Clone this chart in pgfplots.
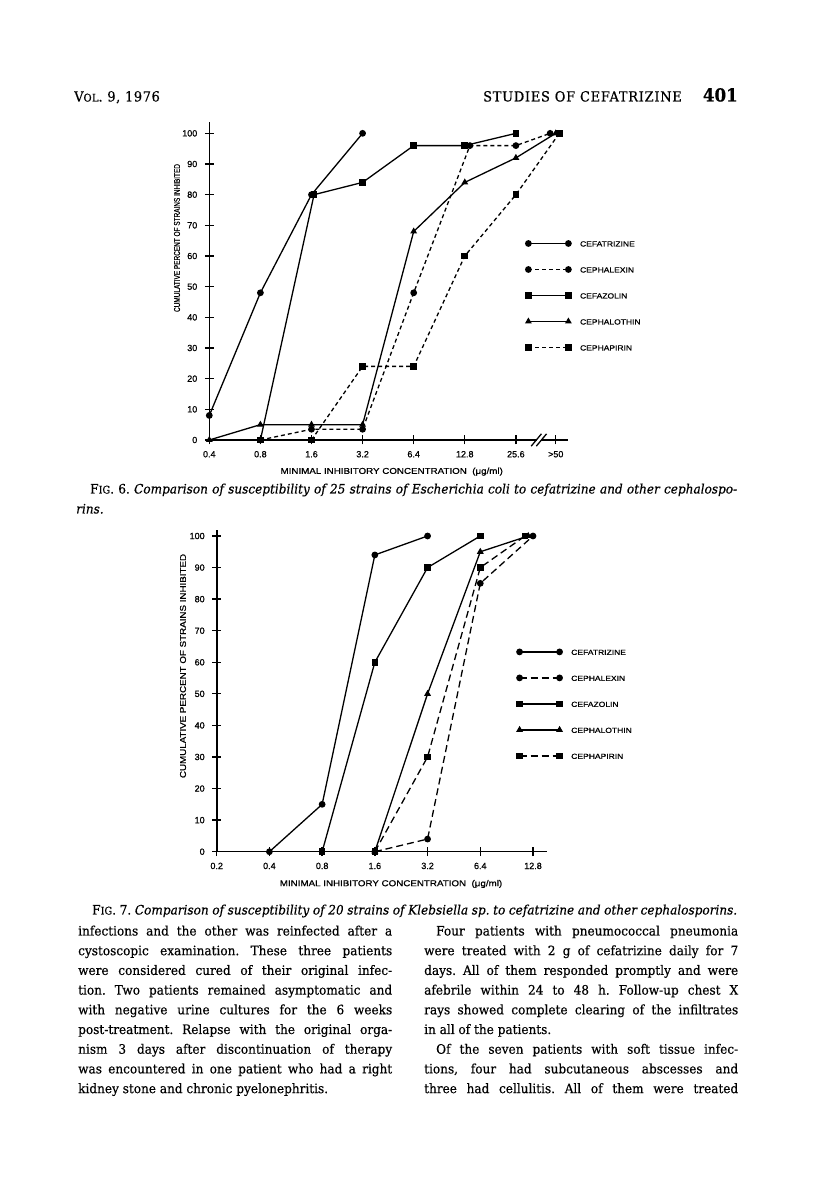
\documentclass[border=0pt]{standalone}
\usepackage{fontspec}
\usepackage{pgfplots}
\pgfplotsset{compat=1.18}
\setmainfont{DejaVu Serif}[FakeStretch=0.93, FakeBold=0.4]
\newfontfamily\chartfont{Liberation Sans}[FakeStretch=1.15, FakeBold=0.8]
\newfontfamily\tickfont{Liberation Sans}[FakeBold=0.8]
\newcommand\smc[1]{{\fontsize{10.5}{10.5}\selectfont #1}}
\newcommand\bodyline[3]{\node[anchor=base west, inner sep=0pt] at (#1pt,#2pt) {\fontsize{13}{13}\selectfont\frenchspacing\makebox[314pt][s]{#3}};}
\newcommand\lastline[3]{\node[anchor=base west, inner sep=0pt] at (#1pt,#2pt) {\fontsize{13}{13}\selectfont\frenchspacing #3};}

\pgfplotsset{
  mic/.style={
    scale only axis, clip=false,
    axis x line=bottom, axis y line=left,
    axis line style={-, line width=1.6pt},
    tick align=center, major tick length=9pt,
    tick style={black, line width=1.3pt},
    ytick={0,10,...,100},
    yticklabels={0,10,20,30,40,50,60,70,80,90,100},
    ticklabel style={font=\tickfont\fontsize{9}{9}\selectfont},
    xticklabel style={yshift=-3pt},
    yticklabel style={xshift=-4pt},
    every axis plot/.append style={black, line width=1.3pt, mark options={solid}},
    mark size=2.7pt,
    legend cell align=left,
    legend image code/.code={\draw[##1, mark repeat=2, mark phase=1] plot coordinates {(0pt,0pt) (20pt,0pt) (40pt,0pt)};},
    legend style={anchor=north west, draw=none, fill=none, inner sep=0pt,
      row sep=20pt, column sep=9pt, font=\chartfont\fontsize{7.4}{7.4}\selectfont,
      nodes={inner sep=0pt, text height=6pt, text depth=0pt}},
  },
}

\begin{document}
\begin{tikzpicture}
\fill[white] (0pt,0pt) rectangle (816pt,1199pt);
\path[use as bounding box] (0pt,0pt) rectangle (816pt,1199pt);

% running head
\node[anchor=base west, inner sep=0pt] at (74pt,1097.5pt) {\fontsize{14}{14}\selectfont\addfontfeature{LetterSpace=4}V\smc{OL}. 9, 1976};
\node[anchor=base east, inner sep=0pt] at (682pt,1097.5pt) {\fontsize{14}{14}\selectfont\addfontfeature{LetterSpace=5}STUDIES OF CEFATRIZINE};
\node[anchor=base east, inner sep=0pt] at (738pt,1097.5pt) {\fontsize{18}{18}\selectfont\bfseries 401};

% Fig. 6, Escherichia coli
\begin{axis}[mic, at={(209.3pt,759pt)}, width=358.7pt, height=318.3pt,
  xmin=0, xmax=7.02, ymin=0, ymax=103.8,
  xtick={0,1,2,3,4,5,6,6.78},
  xticklabels={0.4,0.8,1.6,3.2,6.4,12.8,25.6,>50},
  legend style={at={(0.8815,0.6274)}}]
\addplot[mark=*] coordinates {(0,8) (1,48) (2,80) (3,100)};
\addlegendentry{CEFATRIZINE}
\addplot[mark=*, dash pattern=on 4pt off 3pt] coordinates {(1,0) (2,3.5) (3,3.5) (4,48) (5.1,96) (6,96) (6.67,100)};
\addlegendentry{CEPHALEXIN}
\addplot[mark=square*] coordinates {(1,0) (2.05,80) (3,84) (4,96) (5,96) (6,100)};
\addlegendentry{CEFAZOLIN}
\addplot[mark=triangle*] coordinates {(0,0) (1,5) (2,5) (3,5) (4,68) (5,84) (6,92) (6.78,100)};
\addlegendentry{CEPHALOTHIN}
\addplot[mark=square*, dash pattern=on 4pt off 3pt] coordinates {(2,0) (3,24) (4,24) (5,60) (6,80) (6.85,100)};
\addlegendentry{CEPHAPIRIN}
% axis break
\draw[white, line width=4pt] (axis cs:6.42,0) -- (axis cs:6.50,0);
\draw[black, line width=1.3pt] (axis cs:6.30,-2) -- (axis cs:6.50,2);
\draw[black, line width=1.3pt] (axis cs:6.40,-2) -- (axis cs:6.60,2);
\end{axis}
\node[font=\chartfont\fontsize{8.5}{8.5}\selectfont] at (391.7pt,727.3pt) {MINIMAL INHIBITORY CONCENTRATION\ \ (μg/ml)};
\node[rotate=90, font=\chartfont\fontsize{8.5}{8.5}\selectfont] at (177pt,961pt) {\scalebox{0.66}[1]{CUMULATIVE PERCENT OF STRAINS INHIBITED}};

\node[anchor=base west, inner sep=0pt] at (90pt,705.5pt) {\fontsize{13}{13}\selectfont\frenchspacing\makebox[647pt][s]{F\smc{IG}. 6. \itshape Comparison of susceptibility of 25 strains of Escherichia coli to cefatrizine and other cephalospo-}};
\node[anchor=base west, inner sep=0pt] at (76pt,685.5pt) {\fontsize{13}{13}\selectfont\itshape rins.};

% Fig. 7, Klebsiella sp.
\begin{axis}[mic, at={(216.7pt,347.3pt)}, width=330pt, height=321.7pt,
  xmin=0, xmax=6.26, ymin=0, ymax=101.9,
  xtick={0,1,2,3,4,5,6},
  xticklabels={0.2,0.4,0.8,1.6,3.2,6.4,12.8},
  legend style={at={(0.909,0.631)}}]
\addplot[mark=*] coordinates {(1,0) (2,15) (3,94) (4,100)};
\addlegendentry{CEFATRIZINE}
\addplot[mark=*, dash pattern=on 7pt off 4pt] coordinates {(3,0) (4,4) (5,85) (6.0,100)};
\addlegendentry{CEPHALEXIN}
\addplot[mark=square*] coordinates {(2,0) (3,60) (4,90) (5,100)};
\addlegendentry{CEFAZOLIN}
\addplot[mark=triangle*] coordinates {(3,0) (4,50) (5,95) (5.91,100)};
\addlegendentry{CEPHALOTHIN}
\addplot[mark=square*, dash pattern=on 7pt off 4pt] coordinates {(3,0) (4,30) (5,90) (5.85,100)};
\addlegendentry{CEPHAPIRIN}
\end{axis}
\node[font=\chartfont\fontsize{8.5}{8.5}\selectfont] at (391pt,315pt) {MINIMAL INHIBITORY CONCENTRATION\ \ (μg/ml)};
\node[rotate=90, font=\chartfont\fontsize{8.5}{8.5}\selectfont] at (183pt,533pt) {CUMULATIVE PERCENT OF STRAINS INHIBITED};

\node[anchor=base west, inner sep=0pt] at (92pt,284.5pt) {\fontsize{13}{13}\selectfont\frenchspacing\makebox[645pt][s]{F\smc{IG}. 7. \itshape Comparison of susceptibility of 20 strains of Klebsiella sp. to cefatrizine and other cephalosporins.}};

% body text, left column
\bodyline{78}{263.5}{infections and the other was reinfected after a}
\bodyline{78}{243.8}{cystoscopic examination. These three patients}
\bodyline{78}{224.1}{were considered cured of their original infec-}
\bodyline{78}{204.4}{tion. Two patients remained asymptomatic and}
\bodyline{78}{184.7}{with negative urine cultures for the 6 weeks}
\bodyline{78}{165.0}{post-treatment. Relapse with the original orga-}
\bodyline{78}{145.3}{nism 3 days after discontinuation of therapy}
\bodyline{78}{125.6}{was encountered in one patient who had a right}
\lastline{78}{105.9}{kidney stone and chronic pyelonephritis.}

% body text, right column
\node[anchor=base west, inner sep=0pt] at (436pt,263.5pt) {\fontsize{13}{13}\selectfont\frenchspacing\makebox[302pt][s]{Four patients with pneumococcal pneumonia}};
\bodyline{424}{243.8}{were treated with 2 g of cefatrizine daily for 7}
\bodyline{424}{224.1}{days. All of them responded promptly and were}
\bodyline{424}{204.4}{afebrile within 24 to 48 h. Follow-up chest X}
\bodyline{424}{184.7}{rays showed complete clearing of the infiltrates}
\lastline{424}{165.0}{in all of the patients.}
\node[anchor=base west, inner sep=0pt] at (436pt,145.3pt) {\fontsize{13}{13}\selectfont\frenchspacing\makebox[302pt][s]{Of the seven patients with soft tissue infec-}};
\bodyline{424}{125.6}{tions, four had subcutaneous abscesses and}
\bodyline{424}{105.9}{three had cellulitis. All of them were treated}
\end{tikzpicture}
\end{document}
